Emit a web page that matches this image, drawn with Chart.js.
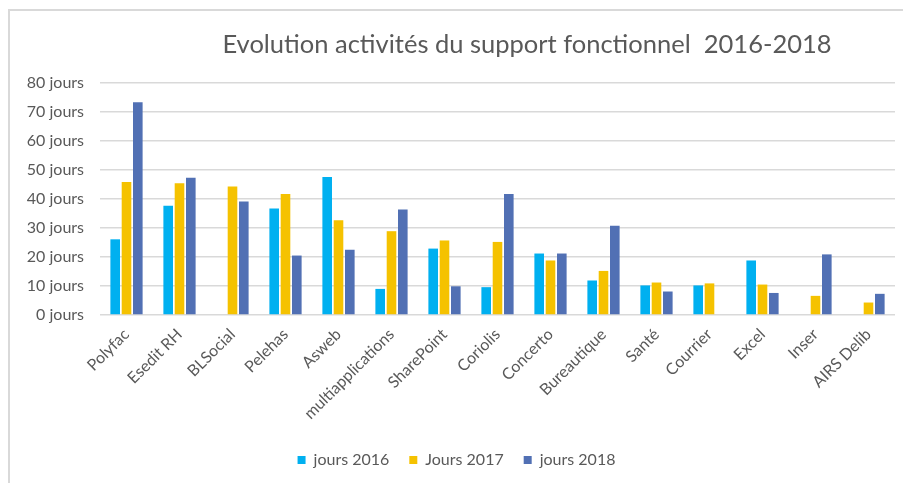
<!DOCTYPE html>
<html lang="fr">
<head>
<meta charset="UTF-8">
<title>Evolution activités du support fonctionnel 2016-2018</title>
<script src="https://cdn.jsdelivr.net/npm/chart.js"></script>
<style>
  html, body { margin: 0; padding: 0; background: #fff; overflow: hidden; }
  #wrap { position: relative; width: 903px; height: 483px; }
  #frame { position: absolute; left: 8px; top: 9px; width: 1000px; height: 1000px;
           border-left: 2px solid #d9d9d9; border-top: 2px solid #d9d9d9; }
  canvas { position: absolute; left: 0; top: 0; }
</style>
</head>
<body>
<div id="wrap">
  <div id="frame"></div>
  <canvas id="chart" width="903" height="483"></canvas>
</div>
<script>
// Données
const categories = ['Polyfac', 'Esedit RH', 'BLSocial', 'Pelehas', 'Asweb', 'multiapplications',
  'SharePoint', 'Coriolis', 'Concerto', 'Bureautique', 'Santé', 'Courrier', 'Excel', 'Inser', 'AIRS Delib'];
const jours2016 = [26.1, 37.7, null, 36.7, 47.6, 9.0, 22.9, 9.6, 21.2, 11.9, 10.2, 10.2, 18.8, null, null];
const jours2017 = [45.9, 45.4, 44.3, 41.7, 32.7, 28.9, 25.7, 25.2, 18.8, 15.2, 11.2, 10.9, 10.5, 6.6, 4.3];
const jours2018 = [73.4, 47.3, 39.1, 20.5, 22.5, 36.4, 9.9, 41.7, 21.2, 30.8, 8.1, null, 7.6, 20.9, 7.3];
const titre = 'Evolution activités du support fonctionnel  2016-2018';

const FONT = 'Lato, "Open Sans", sans-serif';
const GRIS = '#595959';

// titre dessiné à la main (décalé vers la droite comme dans l'original)
const titlePlugin = {
  id: 'titreManuel',
  afterDraw(chart) {
    const ctx = chart.ctx;
    ctx.save();
    ctx.font = '25.5px ' + FONT;
    ctx.fillStyle = GRIS;
    ctx.textAlign = 'center';
    ctx.textBaseline = 'middle';
    ctx.fillText(titre, 527, 45);
    ctx.restore();
  }
};

new Chart(document.getElementById('chart'), {
  type: 'bar',
  data: {
    labels: categories,
    datasets: [
      { label: 'jours 2016', data: jours2016, backgroundColor: '#00b0f0' },
      { label: 'Jours 2017', data: jours2017, backgroundColor: '#f5c200' },
      { label: 'jours 2018', data: jours2018, backgroundColor: '#5170b4' }
    ]
  },
  options: {
    responsive: false,
    animation: false,
    categoryPercentage: 0.64,
    barPercentage: 0.85,
    layout: { padding: { top: 83, right: 8, bottom: 5, left: 18 } },
    plugins: {
      title: { display: false },
      tooltip: { enabled: false },
      legend: {
        position: 'bottom',
        labels: {
          boxWidth: 8, boxHeight: 8, padding: 20,
          color: GRIS,
          font: { family: FONT, size: 16 }
        }
      }
    },
    scales: {
      x: {
        grid: { display: false },
        border: { display: false },
        ticks: {
          color: GRIS, font: { family: FONT, size: 16 },
          minRotation: 45, maxRotation: 45, padding: 2, autoSkip: false
        },
        afterFit(axis) { axis.height = 117; }
      },
      y: {
        min: 0, max: 80,
        grid: { color: '#d9d9d9', lineWidth: 1.5, drawTicks: false },
        border: { display: false },
        ticks: {
          stepSize: 10, padding: 16, color: GRIS,
          font: { family: FONT, size: 16 },
          callback: v => v + ' jours'
        },
        afterFit(axis) { axis.width = 82; }
      }
    }
  },
  plugins: [titlePlugin]
});
</script>
</body>
</html>
